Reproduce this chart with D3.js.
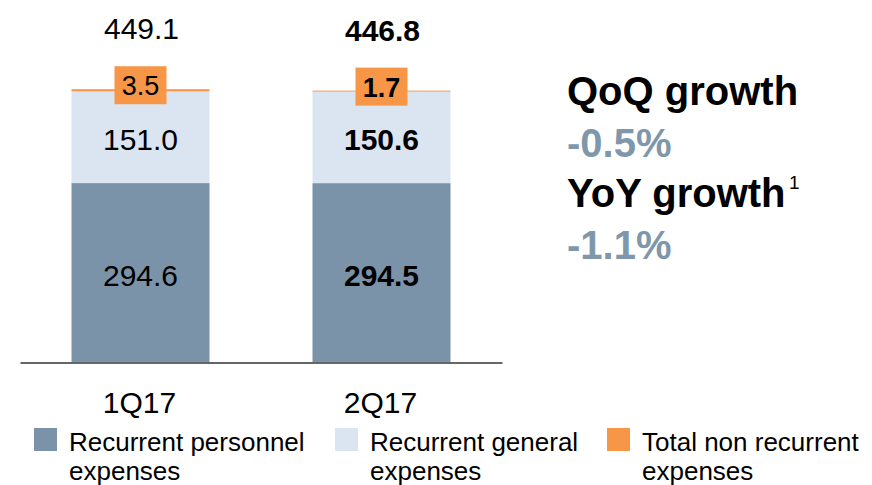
<!DOCTYPE html>
<html>
<head>
<meta charset="utf-8">
<script src="https://cdn.jsdelivr.net/npm/d3@7"></script>
<style>
  html, body { margin: 0; padding: 0; background: #fff; }
  svg { display: block; font-family: "Liberation Sans", Arial, sans-serif; }
</style>
</head>
<body>
<svg id="chart" width="872" height="485"></svg>
<script>
const categories = ["1Q17", "2Q17"];
const personnel = [294.6, 294.5];
const general = [151.0, 150.6];
const nonRecurrent = [3.5, 1.7];
const totals = [449.1, 446.8];
const boldCategory = [false, true];
const seriesNames = ["Recurrent personnel expenses", "Recurrent general expenses", "Total non recurrent expenses"];
const legendLines = [["Recurrent personnel", "expenses"], ["Recurrent general", "expenses"], ["Total non recurrent", "expenses"]];
const growthTexts = [
  { label: "QoQ growth", value: "-0.5%", sup: "" },
  { label: "YoY growth", value: "-1.1%", sup: "1" }
];

const colors = ["#7b93a8", "#dbe5f1", "#f79646"];
const pctColor = "#7f97ab";

const svg = d3.select("#chart");

const x = d3.scaleBand().domain(categories).range([20, 502]).paddingInner(0.4274).paddingOuter(0.2137);
const y = d3.scaleLinear().domain([0, 596]).range([362, 0]);

const data = categories.map((c, i) => ({
  cat: c, i,
  segs: [personnel[i], general[i], nonRecurrent[i]],
  total: totals[i],
  bold: boldCategory[i]
}));

const stack = d3.stack().keys([0, 1, 2]).value((d, k) => d.segs[k]);
const series = stack(data);

svg.append("g").selectAll("g").data(series).join("g")
  .attr("fill", (s, k) => colors[k])
  .selectAll("rect").data(s => s).join("rect")
  .attr("x", d => x(d.data.cat))
  .attr("width", x.bandwidth())
  .attr("y", d => y(d[1]))
  .attr("height", d => y(d[0]) - y(d[1]));

// axis baseline
const axis = d3.axisBottom(x).tickSize(0).tickPadding(0).tickFormat("");
const ag = svg.append("g").attr("transform", "translate(0,362.5)").call(axis);
ag.select(".domain").attr("stroke", "#333").attr("stroke-width", 1.3);
ag.selectAll(".tick").remove();

// category labels
svg.append("g").selectAll("text").data(data).join("text")
  .attr("x", d => x(d.cat) + x.bandwidth() / 2 - 1)
  .attr("y", 412.7)
  .attr("text-anchor", "middle")
  .attr("font-size", 30)
  .attr("fill", "#000")
  .text(d => d.cat);

// segment labels (personnel & general)
[0, 1].forEach(k => {
  svg.append("g").selectAll("text").data(series[k]).join("text")
    .attr("x", d => x(d.data.cat) + x.bandwidth() / 2)
    .attr("y", d => (y(d[0]) + y(d[1])) / 2 + 13)
    .attr("text-anchor", "middle")
    .attr("font-size", 30)
    .attr("font-weight", d => d.data.bold ? "bold" : "normal")
    .attr("fill", "#000")
    .text(d => d.data.segs[k].toFixed(1));
});

// non recurrent label boxes
const nr = svg.append("g").selectAll("g").data(series[2]).join("g")
  .attr("transform", d => `translate(${x(d.data.cat) + x.bandwidth() / 2},${y(d[1]) - 4})`);
nr.append("rect")
  .attr("x", -26).attr("y", -19).attr("width", 52).attr("height", 38)
  .attr("fill", colors[2]);
nr.append("text")
  .attr("text-anchor", "middle")
  .attr("y", 10)
  .attr("font-size", 27)
  .attr("font-weight", d => d.data.bold ? "bold" : "normal")
  .attr("fill", "#000")
  .text(d => d.data.segs[2].toFixed(1));

// totals
svg.append("g").selectAll("text").data(data).join("text")
  .attr("x", d => x(d.cat) + x.bandwidth() / 2 + 1)
  .attr("y", d => y(d.total) - 50)
  .attr("text-anchor", "middle")
  .attr("font-size", 30)
  .attr("font-weight", d => d.bold ? "bold" : "normal")
  .attr("fill", "#000")
  .text(d => d.total.toFixed(1));

// growth texts
const gt = svg.append("g").attr("transform", "translate(567,0)");
growthTexts.forEach((g, i) => {
  const base = 105 + i * 102;
  gt.append("text").attr("x", 0).attr("y", base)
    .attr("font-size", 40).attr("font-weight", "bold").attr("fill", "#000")
    .text(g.label);
  if (g.sup) {
    gt.append("text").attr("x", 222).attr("y", base - 18)
      .attr("font-size", 19).attr("fill", "#000").text(g.sup);
  }
  gt.append("text").attr("x", 0).attr("y", base + 51.5)
    .attr("font-size", 40).attr("font-weight", "bold").attr("fill", pctColor)
    .text(g.value);
});

// legend
const legendX = [34, 335, 607];
const lg = svg.append("g").selectAll("g").data(seriesNames).join("g")
  .attr("transform", (d, i) => `translate(${legendX[i]},428)`);
lg.append("rect").attr("width", 23).attr("height", 23).attr("fill", (d, i) => colors[i]);
lg.append("text")
  .attr("x", 35)
  .attr("font-size", 26)
  .attr("fill", "#000")
  .selectAll("tspan").data((d, i) => legendLines[i]).join("tspan")
  .attr("x", 35)
  .attr("y", (d, j) => 22.7 + j * 29.5)
  .text(d => d);
</script>
</body>
</html>
